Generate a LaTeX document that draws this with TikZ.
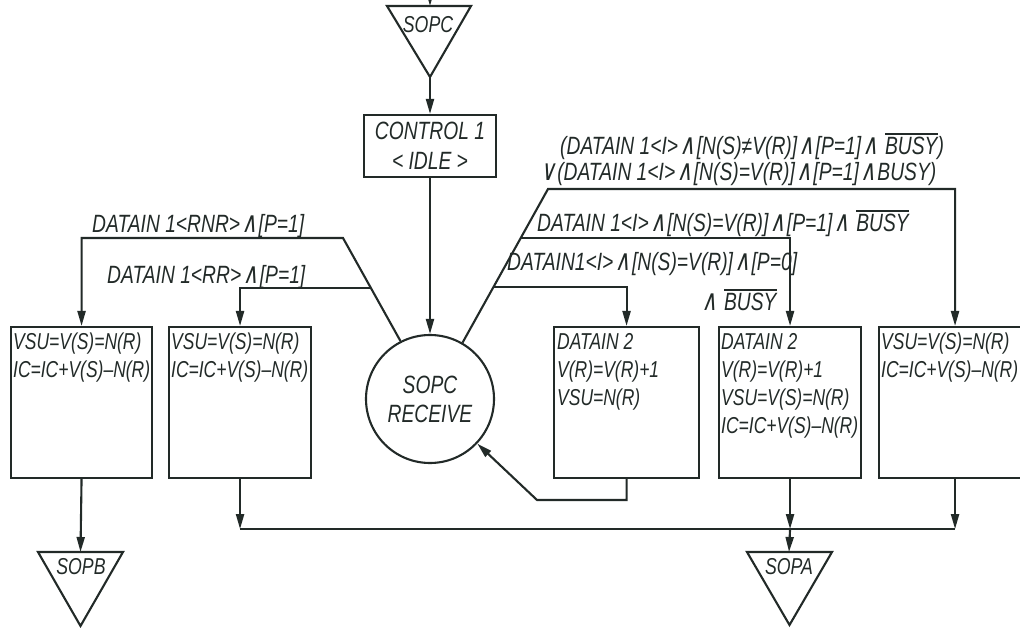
\documentclass[tikz,border=0pt]{standalone}
\usepackage{fontspec}
\setmainfont{Liberation Sans}
\newfontfamily\labf{Liberation Sans}[FakeStretch=0.77]
\newfontfamily\boxf{Liberation Sans}[FakeStretch=0.76]
\newfontfamily\symf{DejaVu Sans}[FakeStretch=0.85,FakeSlant=0.2]
\usetikzlibrary{arrows.meta,calc}
\definecolor{ink}{RGB}{34,42,40}
\newcommand\ovl[1]{\leavevmode\vbox{\hrule height 1.8pt\kern 2.5pt\hbox{#1}}}
\newcommand\AND{\kern1.5pt\scalebox{1.0}[1.15]{\symf ∧}\kern1.5pt}
\newcommand\OR{\scalebox{1.0}[1.15]{\symf ∨}\kern1.5pt}
\tikzset{
  line/.style={draw=ink, line width=2.1pt},
  arr/.style={line, -{Triangle[length=15pt,width=8pt]}},
  box/.style={draw=ink, line width=2.1pt, rectangle, inner sep=0pt, anchor=north west},
  lab/.style={text=ink, font=\labf\itshape\fontsize{25}{28}\selectfont, inner sep=0pt, anchor=base west},
  btxt/.style={text=ink, font=\boxf\itshape\fontsize{23}{28}\selectfont, inner sep=0pt, anchor=north west, align=left},
  ctxt/.style={text=ink, font=\labf\itshape\fontsize{25}{30}\selectfont, align=center},
  ttxt/.style={text=ink, font=\labf\itshape\fontsize{23}{24}\selectfont, inner sep=0pt},
  tri/.style={line, line join=miter}
}
\begin{document}
\begin{tikzpicture}[x=1pt,y=-1pt]
\useasboundingbox (0,0) rectangle (1020,628);
% top triangle SOPC
\coordinate (tcL) at (387,6);
\coordinate (tcR) at (471,6);
\coordinate (tcA) at (430,77);
\coordinate (tcTop) at (430,6);
\coordinate (inTop) at (430,-16);
\draw[tri] (tcL) -- (tcR) -- (tcA) -- cycle;
\node[ttxt] (sopc) at (428,25) {SOPC};
\draw[arr] (inTop) -- (tcTop);
% control box
\node[line, rectangle, minimum width=132pt, minimum height=62pt, inner sep=0pt, ctxt] (ctrl) at (430,146) {CONTROL 1\\< IDLE >};
\draw[arr] (tcA) -- (ctrl);
% circle
\node[line, circle, minimum size=128pt, inner sep=0pt, ctxt, font=\labf\itshape\fontsize{25}{29}\selectfont] (rec) at (430,399) {SOPC\\RECEIVE};
\draw[arr] (ctrl) -- (rec);
% boxes
\node[box, minimum width=141pt, minimum height=151pt] (b1) at (10,326) {};
\node[box, minimum width=142pt, minimum height=151pt] (b2) at (168,326) {};
\node[box, minimum width=145pt, minimum height=151pt] (b3) at (553,326) {};
\node[box, minimum width=142pt, minimum height=151pt] (b4) at (718,326) {};
\node[box, minimum width=152pt, minimum height=151pt] (b5) at (878,326) {};
\node[btxt] (t1) at (13,333) {VSU=V(S)=N(R)\\IC=IC+V(S)–N(R)};
\node[btxt] (t2) at (171,333) {VSU=V(S)=N(R)\\IC=IC+V(S)–N(R)};
\node[btxt] (t3) at (557,333) {DATAIN 2\\V(R)=V(R)+1\\VSU=N(R)};
\node[btxt] (t4) at (721,333) {DATAIN 2\\V(R)=V(R)+1\\VSU=V(S)=N(R)\\IC=IC+V(S)–N(R)};
\node[btxt] (t5) at (881,333) {VSU=V(S)=N(R)\\IC=IC+V(S)–N(R)};
% left branches
\coordinate (lTop) at (343,238);
\coordinate (lMid) at ($(rec.117)!0.519!(lTop)$);
\draw[arr] (rec.117) -- (lTop) -| (b1.north);
\draw[arr] (lMid) -| (b2.north);
% right branches
\coordinate (rTop) at (548,189);
\coordinate (rM1) at ($(rec.60)!0.683!(rTop)$);
\coordinate (rM2) at ($(rec.60)!0.36!(rTop)$);
\draw[arr] (rec.60) -- (rTop) -| (b5.north);
\draw[arr] (rM1) -| (b4.north);
\draw[arr] (rM2) -| (b3.north);
% labels
\node[lab] (l1) at (92,233) {DATAIN 1<RNR>\AND[P=1]};
\node[lab] (l2) at (107,284) {DATAIN 1<RR>\AND[P=1]};
\node[lab] (l3) at (560,155) {(DATAIN 1<I>\AND[N(S)≠V(R)]\AND[P=1]\AND\ \ovl{BUSY})};
\node[lab] (l4) at (540,181) {\OR(DATAIN 1<I>\AND[N(S)=V(R)]\AND[P=1]\AND BUSY)};
\node[lab] (l5) at (537,232) {DATAIN 1<I>\AND[N(S)=V(R)]\AND[P=1]\AND\ \ovl{BUSY}};
\node[lab] (l6) at (507,271) {DATAIN1<I>\AND[N(S)=V(R)]\AND[P=0]};
\node[lab] (l7) at (700,311) {\AND\ \ovl{BUSY}};
% bottom
\coordinate (sbL) at (38,552);
\coordinate (sbR) at (123,552);
\coordinate (sbA) at (80.5,626);
\coordinate (sbTop) at (80.5,552);
\draw[tri] (sbL) -- (sbR) -- (sbA) -- cycle;
\node[ttxt] (sopb) at (81,567) {SOPB};
\draw[arr] (b1.south) -- (sbTop);
\coordinate (saL) at (747,552);
\coordinate (saR) at (832,552);
\coordinate (saA) at (789.5,625);
\coordinate (saTop) at (789,552);
\draw[tri] (saL) -- (saR) -- (saA) -- cycle;
\node[ttxt] (sopa) at (789,567) {SOPA};
\coordinate (j2) at ($(b2.south)+(0,50)$);
\coordinate (j4) at ($(b4.south)+(0,50)$);
\coordinate (j5) at ($(b5.south)+(0,50)$);
\draw[line] (j2) -- (j5);
\draw[arr] (b2.south) -- (j2);
\draw[arr] (b4.south) -- (j4);
\draw[arr] (b5.south) -- (j5);
\draw[arr] (j4) -- (saTop);
% feedback
\coordinate (f2) at (537,500);
\draw[arr] (b3.south) |- (f2) -- (rec);
\end{tikzpicture}
\end{document}
